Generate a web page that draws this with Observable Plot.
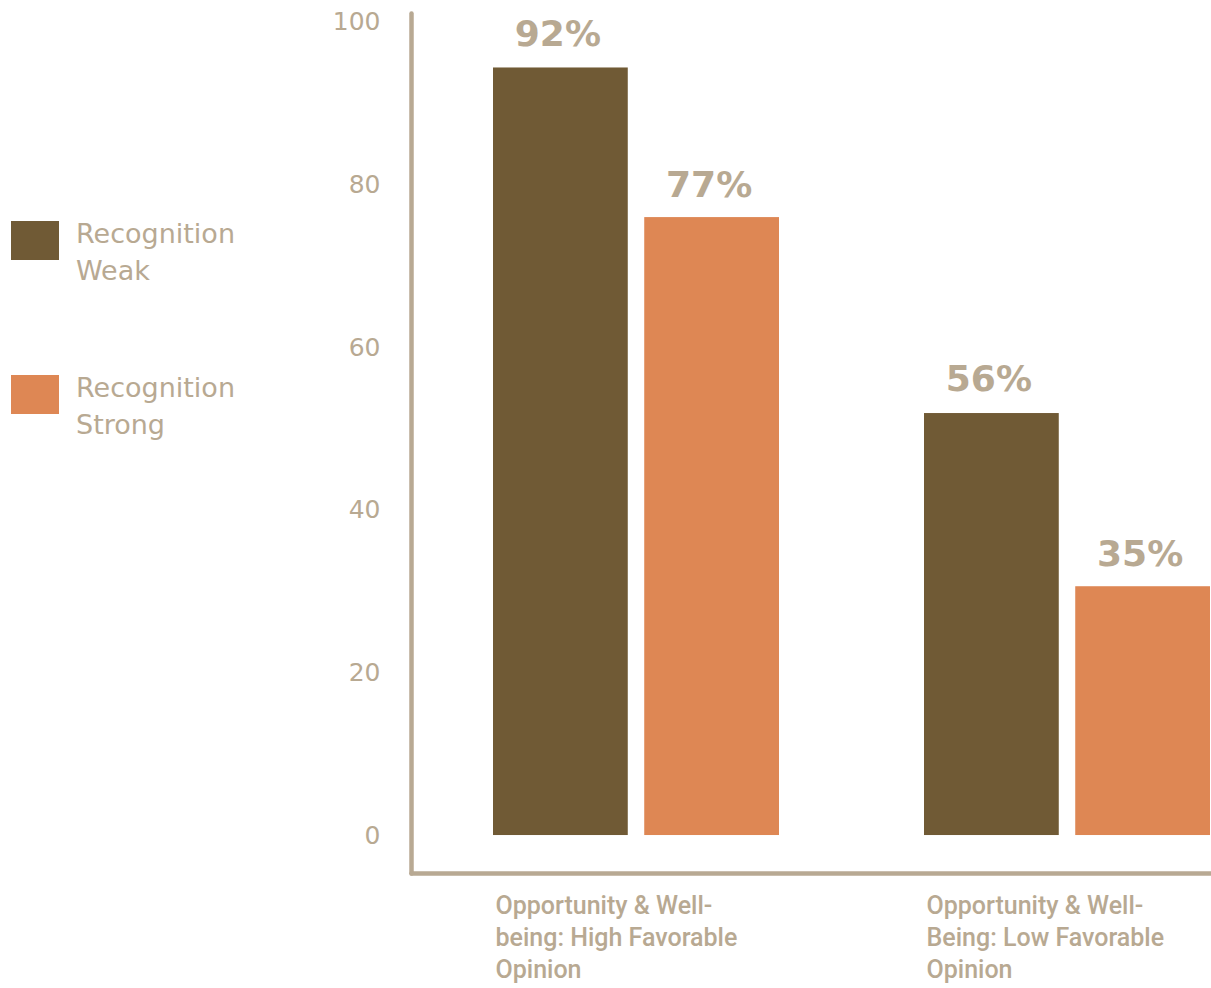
<!DOCTYPE html>
<html>
<head>
<meta charset="utf-8">
<script src="https://cdn.jsdelivr.net/npm/d3@7"></script>
<script src="https://cdn.jsdelivr.net/npm/@observablehq/plot@0.6"></script>
<style>
  body { margin: 0; background: #ffffff; }
  #wrap { position: relative; width: 1211px; height: 988px; }
  #legend { position: absolute; left: 0; top: 0; font-family: "DejaVu Sans", sans-serif; color: #b8a992; }
  .swatch { position: absolute; left: 11px; width: 48px; height: 39px; }
  .ltext { position: absolute; left: 76px; font-size: 27px; line-height: 37px; white-space: nowrap; }
  #chart { position: absolute; left: 0; top: 0; }
</style>
</head>
<body>
<div id="wrap">
  <div id="chart"></div>
  <div id="legend"></div>
</div>
<script>
// ---- data ----
const groups = [
  "Opportunity & Well-being: High Favorable Opinion",
  "Opportunity & Well-Being: Low Favorable Opinion"
];
const groupLabelLines = [
  ["Opportunity & Well-", "being: High Favorable", "Opinion"],
  ["Opportunity & Well-", "Being: Low Favorable", "Opinion"]
];
const series = ["Recognition Weak", "Recognition Strong"];
const legendLines = [["Recognition", "Weak"], ["Recognition", "Strong"]];
const weakValues = [94.4, 51.9];     // bar heights as drawn
const strongValues = [76.0, 30.6];
const weakLabels = ["92%", "56%"];   // printed labels
const strongLabels = ["77%", "35%"];
const yTicks = [0, 20, 40, 60, 80, 100];
const colors = ["#705a35", "#de8754"];
const textColor = "#b8a992";
const lineColor = "#b8a993";

const weakData = groups.map((g, i) => ({group: g, value: weakValues[i], label: weakLabels[i]}));
const strongData = groups.map((g, i) => ({group: g, value: strongValues[i], label: strongLabels[i]}));

const W = 1211, ML = 411, MR = 1;
const xPadIn = 0.336, xPadOut = 0.094;
const step = (W - ML - MR) / (groups.length - xPadIn + 2 * xPadOut);
const bw = step * (1 - xPadIn);          // band width of one group
const barGap = 16;
const half = (bw + barGap) / 2;          // inset that leaves one bar per half-band
const barCenterOffset = bw / 4 + barGap / 4;

const chart = Plot.plot({
  width: W,
  height: 988,
  marginLeft: ML,
  marginRight: MR,
  marginTop: 13,
  marginBottom: 115,
  style: {fontFamily: "DejaVu Sans, sans-serif", color: textColor, background: "transparent", overflow: "visible"},
  x: {domain: groups, paddingInner: xPadIn, paddingOuter: xPadOut, align: 1, label: null, axis: null},
  y: {domain: [-4.67, 101.1], label: null, axis: null},
  marks: [
    Plot.barY(weakData, {x: "group", y: "value", fill: colors[0], insetRight: half}),
    Plot.barY(strongData, {x: "group", y: "value", fill: colors[1], insetLeft: half}),
    Plot.text(weakData, {x: "group", y: "value", text: "label", dx: -barCenterOffset - 3, dy: -34,
      fontSize: 36, fontWeight: "bold", fill: textColor}),
    Plot.text(strongData, {x: "group", y: "value", text: "label", dx: barCenterOffset - 3, dy: -32,
      fontSize: 36, fontWeight: "bold", fill: textColor}),
    Plot.axisY({ticks: yTicks, tickSize: 0, tickPadding: 31, fontSize: 25, label: null, fill: textColor}),
    Plot.axisX({anchor: "bottom", tickSize: 0, tickPadding: 18, label: null, fontSize: 25, fontWeight: 500,
      fontFamily: "Roboto, sans-serif", textAnchor: "start", dx: -141, lineHeight: 32 / 25,
      fill: textColor,
      tickFormat: (d) => groupLabelLines[groups.indexOf(d)].join("\n")}),
    Plot.frame({anchor: "left", stroke: lineColor, strokeWidth: 4.5, strokeLinecap: "round"}),
    Plot.frame({anchor: "bottom", stroke: lineColor, strokeWidth: 4.5, strokeLinecap: "round"})
  ]
});
document.getElementById("chart").append(chart);

// ---- legend ----
const legend = document.getElementById("legend");
series.forEach((s, i) => {
  const sw = document.createElement("div");
  sw.className = "swatch";
  sw.style.top = (221 + i * 154) + "px";
  sw.style.background = colors[i];
  legend.append(sw);
  const t = document.createElement("div");
  t.className = "ltext";
  t.style.top = (215 + i * 154) + "px";
  t.innerHTML = legendLines[i].join("<br>");
  legend.append(t);
});
</script>
</body>
</html>
